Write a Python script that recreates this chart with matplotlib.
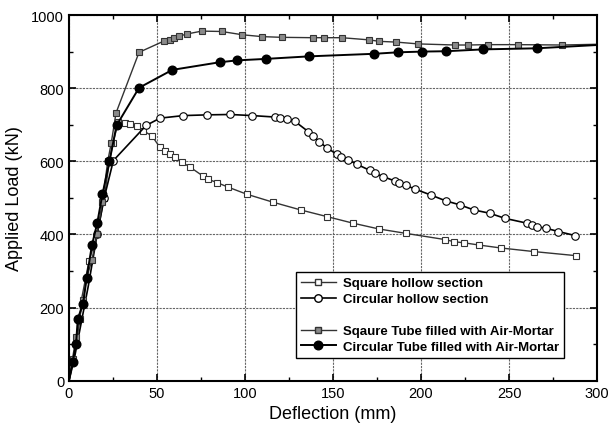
import matplotlib
matplotlib.use("Agg")
import matplotlib.pyplot as plt
from matplotlib.ticker import MultipleLocator
from matplotlib.lines import Line2D

plt.rcParams['font.family'] = ['Liberation Sans', 'DejaVu Sans']

# Square hollow section
sq_h_x = [0, 2, 4, 6, 7, 11.4, 16, 20, 23, 25, 28, 32, 34.7, 38.5, 42, 47, 51.7, 54.5, 57.4, 60,
          64, 68.8, 76, 79, 84, 90.6, 101, 116, 131.6, 146.4, 161.2, 176, 191.3, 213.6, 219,
          224.6, 233, 245.3, 264.4, 288]
sq_h_y = [0, 50, 100, 160, 220, 328, 400, 500, 600, 650, 707, 705, 702, 697, 684, 670, 638, 628,
          620, 611, 598, 584, 560, 551, 542, 529, 510, 488, 467, 449, 431, 415, 403, 386, 380,
          377, 371, 363, 353, 342]

# Circular hollow section
ci_h_x = [0, 3, 7, 11, 16, 20, 25.2, 43.8, 51.7, 65, 78.6, 91.5, 104.2, 117, 120, 123.7, 128.4,
          136, 138.8, 142.2, 146.4, 152, 154.5, 158.7, 163.5, 171, 173.9, 178.6, 185.2, 187.7,
          191.5, 196.6, 205.5, 214, 222, 230, 239, 247.7, 260, 263, 266, 271, 278, 287.5]
ci_h_y = [0, 60, 160, 260, 400, 500, 602, 698, 718, 725, 727, 728, 725, 721, 719, 716, 709,
          681, 669, 654, 637, 620, 613, 604, 592, 575, 567, 558, 546, 540, 534, 524, 508, 492,
          481, 467, 458, 444, 431, 427, 421, 417, 408, 397]

# Square tube filled with air-mortar
sq_f_x = [0, 2, 4, 6, 8, 10, 13, 16, 19, 22, 24, 26.7, 39.8, 54, 57.4, 59.8, 62.5, 66.9, 75.4,
          86.7, 98.5, 109.5, 120.8, 138.4, 144.9, 155, 170.6, 176.3, 185.8, 198.5, 219.3, 226.9,
          237.9, 255, 280, 300]
sq_f_y = [0, 60, 120, 170, 220, 280, 330, 400, 490, 600, 650, 732, 898, 929, 933, 938, 942, 948,
          956, 955, 946, 941, 939, 938, 938, 938, 932, 928, 926, 921, 918, 918, 919, 919, 918, 920]

# Circular tube filled with air-mortar
ci_f_x = [0, 2, 4, 5, 8, 10, 13, 16, 19, 23, 27, 39.8, 58.7, 85.8, 95.6, 111.7, 136.5, 173.5,
          186.7, 200.7, 214.2, 235, 265.7, 300]
ci_f_y = [0, 50, 100, 170, 210, 280, 370, 430, 510, 600, 698, 801, 850, 871, 876, 880, 887, 894,
          898, 900, 901, 906, 909, 918]

fig = plt.figure(figsize=(6.09, 4.39), dpi=100)
ax = fig.add_axes([0.1133, 0.1305, 0.867, 0.833])

ms_sq = 4.8
ms_ci = 5.4
ms_cf = 6.2
ax.plot(sq_h_x, sq_h_y, '-', color='#333333', lw=1.0, marker='s', ms=ms_sq,
        mfc='white', mec='#333333', mew=0.8, markevery=list(range(5, len(sq_h_x))))
ax.plot(ci_h_x, ci_h_y, '-', color='black', lw=1.2, marker='o', ms=ms_ci,
        mfc='white', mec='black', mew=0.8, markevery=list(range(4, len(ci_h_x))))
ax.plot(sq_f_x, sq_f_y, '-', color='#333333', lw=1.0, marker='s', ms=ms_sq,
        mfc='#8a8a8a', mec='#333333', mew=0.8, markevery=list(range(1, len(sq_f_x) - 1)))
ax.plot(ci_f_x, ci_f_y, '-', color='black', lw=1.4, marker='o', ms=ms_cf,
        mfc='black', mec='black', markevery=list(range(1, len(ci_f_x) - 1)))

ax.set_xlim(0, 300)
ax.set_ylim(0, 1000)
ax.xaxis.set_major_locator(MultipleLocator(50))
ax.xaxis.set_minor_locator(MultipleLocator(25))
ax.yaxis.set_major_locator(MultipleLocator(200))
ax.yaxis.set_minor_locator(MultipleLocator(100))
ax.tick_params(which='both', direction='in', top=True, right=True, labelsize=10.5)
ax.tick_params(which='major', length=5, width=1.2)
ax.tick_params(which='minor', length=3, width=1.0)
ax.grid(True, which='major', color='#666666', lw=0.8, ls=(0, (2, 1)))
for s in ax.spines.values():
    s.set_linewidth(1.5)

ax.set_xlabel('Deflection (mm)', fontsize=13, labelpad=4)
ax.set_ylabel('Applied Load (kN)', fontsize=13, labelpad=6)

handles = [
    Line2D([], [], color='#333333', lw=1.0, marker='s', ms=ms_sq, mfc='white', mec='#333333'),
    Line2D([], [], color='black', lw=1.2, marker='o', ms=ms_ci, mfc='white', mec='black'),
    Line2D([], [], color='none'),
    Line2D([], [], color='#333333', lw=1.0, marker='s', ms=ms_sq, mfc='#8a8a8a', mec='#333333'),
    Line2D([], [], color='black', lw=1.4, marker='o', ms=ms_cf, mfc='black', mec='black'),
]
labels = ['Square hollow section', 'Circular hollow section', ' ',
          'Sqaure Tube filled with Air-Mortar', 'Circular Tube filled with Air-Mortar']
leg = ax.legend(handles, labels, loc='lower left', bbox_to_anchor=(0.43, 0.063),
                prop={'weight': 'bold', 'size': 9.5}, frameon=True, fancybox=False,
                edgecolor='black', framealpha=1, borderpad=0.35, labelspacing=0.28,
                handlelength=2.7, handletextpad=0.5, borderaxespad=0)
leg.get_frame().set_linewidth(1.0)

fig.savefig('out.png', dpi=100)
